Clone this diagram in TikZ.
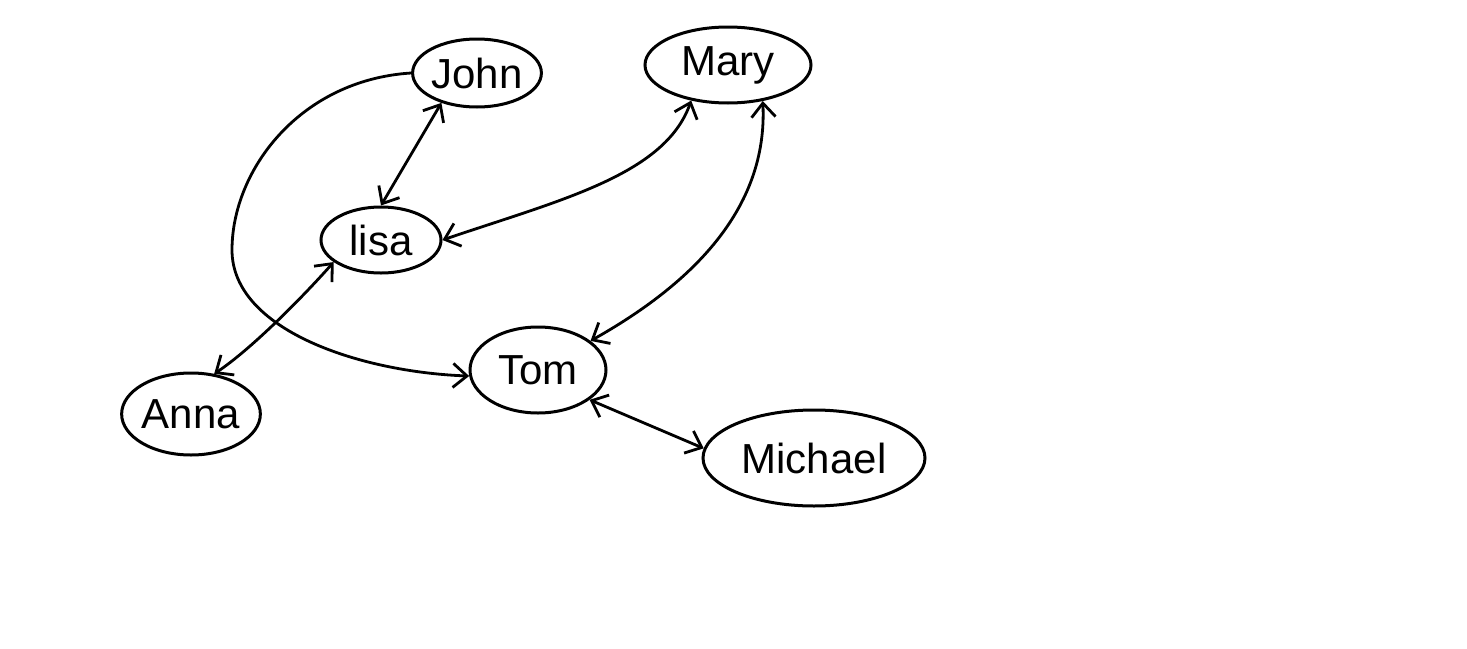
\documentclass[tikz,border=0pt]{standalone}
\usepackage{fontspec}
\setmainfont{Liberation Sans}
\usetikzlibrary{shapes.geometric,arrows.meta}
\begin{document}
\begin{tikzpicture}[x=1pt,y=-1pt,
  person/.style={draw,ellipse,line width=3pt,inner sep=0pt,font=\fontsize{42}{48}\selectfont},
  link/.style={line width=2.8pt,{Straight Barb[length=14pt,width=24pt,line width=2.8pt]}-{Straight Barb[length=14pt,width=24pt,line width=2.8pt]}},
  oneway/.style={line width=2.8pt,-{Straight Barb[length=14pt,width=24pt,line width=2.8pt]}}]
\useasboundingbox (0,0) rectangle (1467,648);
\node[person,minimum width=118pt,minimum height=68pt] (john) at (477,73) {John};
\node[person,minimum width=166pt,minimum height=76pt] (mary) at (728,65) {Mary};
\node[person,minimum width=120pt,minimum height=66pt] (lisa) at (381,240) {lisa};
\node[person,minimum width=136pt,minimum height=86pt] (tom) at (538,370) {Tom};
\node[person,minimum width=138pt,minimum height=82pt] (anna) at (191,414) {Anna};
\node[person,minimum width=222pt,minimum height=96pt] (michael) at (814,458) {Michael};
\draw[link] (john.220) -- (lisa.north);
\draw[link] (mary.224) .. controls (665,175) and (560,200) .. (lisa.east);
\draw[link] (mary.314) .. controls (768,210) and (690,285) .. (tom.29);
\draw[oneway] (john.west) .. controls (300,80) and (232,170) .. (232,250) .. controls (232,330) and (360,372) .. (tom.185);
\draw[link] (lisa.205) .. controls (300,300) and (250,350) .. (anna.60);
\draw[link] (tom.330) -- (michael.175);
\end{tikzpicture}
\end{document}
